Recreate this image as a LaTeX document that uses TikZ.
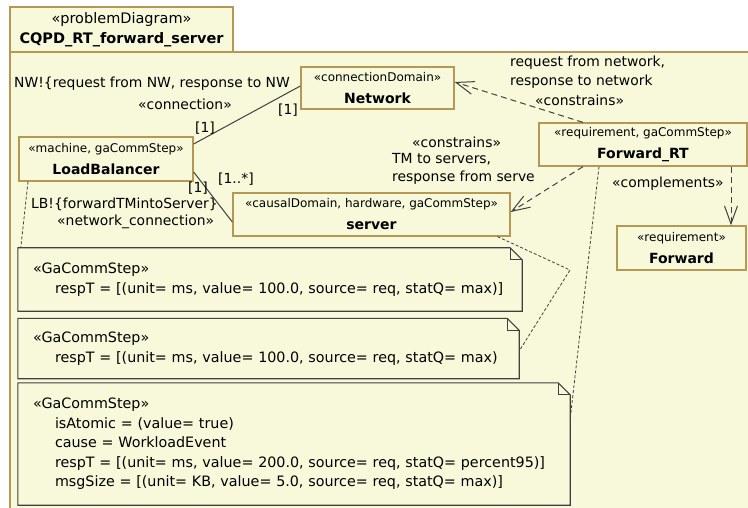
\documentclass[tikz,border=0pt]{standalone}
\usepackage{fontspec}
\setmainfont{DejaVu Sans}
\usetikzlibrary{arrows.meta}

\definecolor{umlfill}{RGB}{248,248,218}
\definecolor{umlline}{RGB}{181,152,84}
\definecolor{connline}{RGB}{64,64,64}

\newcommand{\umlname}{\fontsize{14}{22}\bfseries}

\tikzset{
    umlbox/.style={draw=umlline, fill=umlfill, line width=1.3pt, align=center, inner sep=0pt, font=\fontsize{12}{22}\selectfont},
    notetext/.style={align=left, inner xsep=15pt, inner ysep=0pt, font=\fontsize{14.3}{19.5}\selectfont},
    notebox/.style={draw=connline, line width=1.1pt},
    lbl/.style={anchor=west, inner sep=0pt, font=\fontsize{13.9}{18.5}\selectfont},
    conn/.style={draw=connline, line width=1pt},
    depend/.style={draw=connline, line width=1pt, dash pattern=on 6pt off 4pt, -{Straight Barb[length=18pt, width=13pt]}},
    anchorline/.style={draw=connline, line width=0.8pt, dash pattern=on 3pt off 2pt}
}

\begin{document}
\begin{tikzpicture}[x=1pt, y=-1pt]
        \clip (0, 0) rectangle (748, 508);

        % frame and tab
        \draw[draw=umlline, fill=umlfill, line width=1.3pt] (10, 52) rectangle (770, 530);
        \node[umlbox, minimum width=223pt, minimum height=45pt, font=\fontsize{14.5}{20}\selectfont] (diagram) at (121.5, 29.5) {«problemDiagram»\\\textbf{CQPD\_RT\_forward\_server}};

        % domains
        \node[umlbox, minimum width=153pt, minimum height=42pt] (network) at (377.5, 88) {«connectionDomain»\\{\umlname Network}};
        \node[umlbox, minimum width=174pt, minimum height=44pt] (lb) at (106, 159) {«machine, gaCommStep»\\{\umlname LoadBalancer}};
        \node[umlbox, minimum width=277pt, minimum height=43pt] (server) at (371.5, 214.5) {«causalDomain, hardware, gaCommStep»\\{\umlname server}};
        \node[umlbox, minimum width=208pt, minimum height=43pt] (fwdrt) at (643, 144.5) {«requirement, gaCommStep»\\{\umlname Forward\_RT}};
        \node[umlbox, minimum width=129pt, minimum height=44pt] (forward) at (681.5, 248) {«requirement»\\{\umlname Forward}};

        % notes
        \node[notetext, minimum width=504pt, minimum height=63pt, text width=474pt] (n1) at (270, 279.5) {«GaCommStep»\\\hspace*{22pt}respT = [(unit= ms, value= 100.0, source= req, statQ= max)]};
        \node[notetext, minimum width=501pt, minimum height=60pt, text width=471pt] (n2) at (268.5, 348.5) {«GaCommStep»\\\hspace*{22pt}respT = [(unit= ms, value= 100.0, source= req, statQ= max)};
        \node[notetext, minimum width=552pt, minimum height=122pt, text width=522pt] (n3) at (294, 444) {«GaCommStep»\\\hspace*{22pt}isAtomic = (value= true)\\\hspace*{22pt}cause = WorkloadEvent\\\hspace*{22pt}respT = [(unit= ms, value= 200.0, source= req, statQ= percent95)]\\\hspace*{22pt}msgSize = [(unit= KB, value= 5.0, source= req, statQ= max)]};

        \draw[notebox] (n1.south west) -- (n1.north west) -- ([xshift=-12pt]n1.north east) -- ([yshift=-12pt]n1.north east) -- (n1.south east) -- cycle;
        \draw[notebox] ([xshift=-12pt]n1.north east) |- ([yshift=-12pt]n1.north east);
        \draw[notebox] (n2.south west) -- (n2.north west) -- ([xshift=-12pt]n2.north east) -- ([yshift=-12pt]n2.north east) -- (n2.south east) -- cycle;
        \draw[notebox] ([xshift=-12pt]n2.north east) |- ([yshift=-12pt]n2.north east);
        \draw[notebox] (n3.south west) -- (n3.north west) -- ([xshift=-12pt]n3.north east) -- ([yshift=-12pt]n3.north east) -- (n3.south east) -- cycle;
        \draw[notebox] ([xshift=-12pt]n3.north east) |- ([yshift=-12pt]n3.north east);

        % connections
        \draw[conn] ([yshift=15pt]lb.east) -- ([yshift=2pt]network.west);
        \draw[conn] ([yshift=-13pt]lb.east) -- ([yshift=-7.5pt]server.west);

        \node[lbl] (nwlbl) at (14, 84) {NW!\{request from NW, response to NW};
        \node[lbl] (connlbl) at (138, 104) {«connection»};
        \node[lbl] (mnet) at (278, 110) {[1]};
        \node[lbl] (mlb) at (195, 128) {[1]};
        \node[lbl] (msrv) at (218, 179) {[1..*]};
        \node[lbl] (mlb2) at (188, 188) {[1]};
        \node[lbl] (lblbl) at (31, 204) {LB!\{forwardTMintoServer\}};
        \node[lbl] (netconnlbl) at (57, 222) {«network\_connection»};

        % constraints
        \draw[depend] ([xshift=-60pt]fwdrt.north) -- ([yshift=6pt]network.east);
        \draw[depend] ([xshift=-60pt]fwdrt.south) -- ([yshift=2.5pt]server.east);
        \draw[depend] ([xshift=88pt]fwdrt.south) -- ([xshift=88pt]fwdrt.south |- forward.north);

        \node[lbl, anchor=north west, align=left] (reqlbl) at (510, 56) {request from network,\\response to network};
        \node[lbl] (cons1) at (535, 100) {«constrains»};
        \node[lbl] (cons2) at (412, 142) {«constrains»};
        \node[lbl, anchor=north west, align=left] (tmlbl) at (392, 153) {TM to servers,\\response from serve};
        \node[lbl] (complbl) at (612, 184) {«complements»};

        % note anchors
        \coordinate (bend) at (570, 270);
        \draw[anchorline] ([xshift=-78pt]lb.south) -- ([xshift=3pt]n1.north west);
        \draw[anchorline] ([xshift=126pt]server.south) -- (bend) -- ([yshift=-2.5pt]n2.east);
        \draw[anchorline] ([xshift=-44pt]fwdrt.south) -- ([yshift=-36pt]n3.north east);
\end{tikzpicture}
\end{document}
